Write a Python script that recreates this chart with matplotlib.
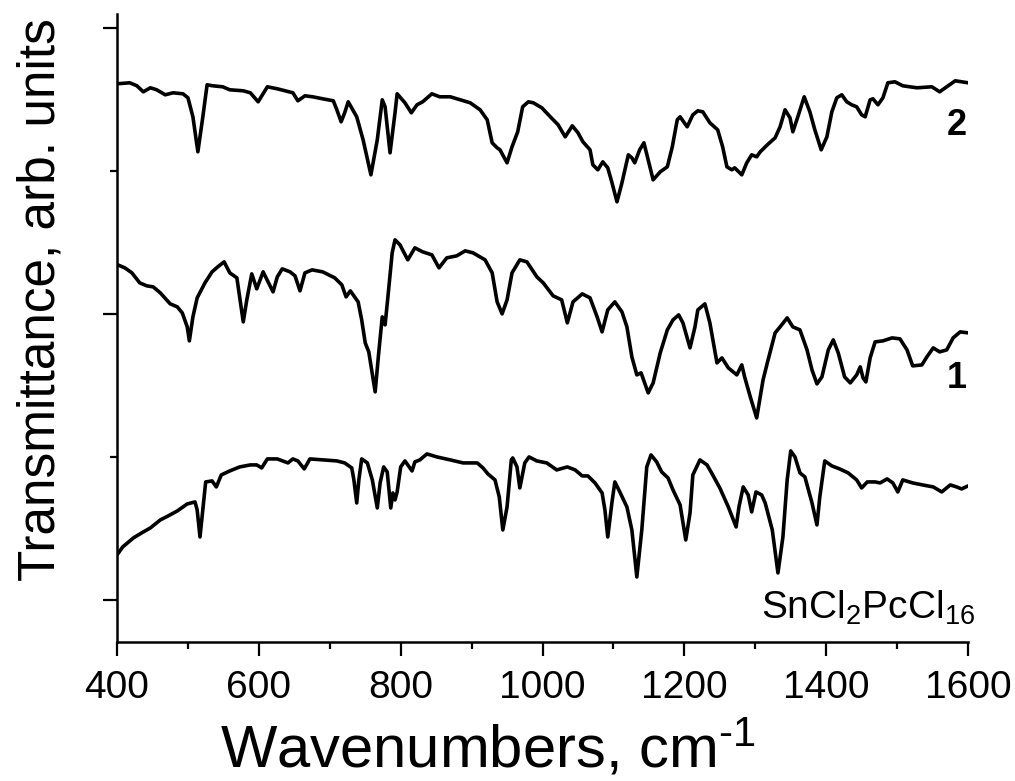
import matplotlib
matplotlib.use("Agg")
import matplotlib.pyplot as plt
from matplotlib.ticker import MultipleLocator, NullFormatter

plt.rcParams['font.family'] = ['Liberation Sans', 'DejaVu Sans']
plt.rcParams['mathtext.fontset'] = 'custom'
plt.rcParams['mathtext.rm'] = 'Liberation Sans'
plt.rcParams['mathtext.it'] = 'Liberation Sans'

# spectrum 2 (top)
wn_2 = [400, 418, 428, 437, 447, 456, 468, 479, 493, 500, 507, 514, 521, 527, 535, 549,
        559, 578, 588, 599, 612, 626, 648, 655, 665, 676, 690, 705, 710, 716, 721, 726,
        738, 747, 758, 767, 774, 778, 785, 792, 795, 806, 815, 823, 831, 844, 855, 870,
        884, 898, 912, 922, 929, 936, 940, 950, 957, 965, 972, 980, 987, 999, 1011, 1022,
        1032, 1042, 1050, 1057, 1067, 1071, 1078, 1085, 1092, 1098, 1105, 1112, 1121, 1126,
        1130, 1137, 1143, 1149, 1156, 1166, 1176, 1183, 1190, 1194, 1204, 1212, 1219, 1226,
        1236, 1247, 1254, 1260, 1267, 1271, 1281, 1288, 1295, 1302, 1307, 1317, 1328, 1335,
        1342, 1349, 1353, 1360, 1369, 1377, 1384, 1393, 1401, 1408, 1415, 1422, 1429, 1436,
        1443, 1450, 1455, 1462, 1466, 1473, 1480, 1487, 1497, 1508, 1528, 1549, 1560, 1570,
        1582, 1591, 1600]
t_2 = [361.2, 361.9, 359.8, 355.6, 358.4, 357.0, 353.5, 354.9, 354.2, 351.4, 338.1, 313.6,
       338.1, 360.5, 359.8, 359.1, 357.0, 356.3, 354.9, 348.6, 359.1, 357.7, 354.9, 349.3,
       352.8, 352.1, 350.7, 349.3, 343.0, 334.6, 340.9, 348.6, 338.1, 322.0, 297.5, 322.0,
       350.0, 345.1, 312.9, 340.9, 354.2, 347.9, 340.9, 346.5, 348.6, 354.2, 352.1, 352.1,
       350.0, 347.9, 343.0, 336.0, 319.9, 316.4, 315.0, 305.9, 317.1, 327.6, 345.1, 348.6,
       347.9, 344.4, 338.1, 332.5, 324.1, 331.8, 326.9, 320.6, 315.0, 304.5, 301.0, 306.6,
       302.4, 291.9, 278.6, 291.9, 311.5, 309.4, 305.9, 315.0, 319.9, 308.0, 294.0, 299.6,
       303.1, 317.1, 336.0, 338.1, 331.1, 339.5, 342.3, 341.6, 333.9, 329.0, 317.1, 303.1,
       301.0, 302.4, 297.5, 305.9, 311.5, 310.1, 313.6, 318.5, 323.4, 331.1, 343.0, 337.4,
       327.6, 338.1, 352.1, 341.6, 329.0, 315.0, 324.1, 341.6, 351.4, 353.5, 348.6, 346.5,
       345.1, 339.5, 338.1, 350.0, 350.7, 346.5, 351.4, 361.9, 362.6, 359.8, 358.4, 359.1,
       355.6, 359.1, 363.3, 362.6, 361.9]

# spectrum 1 (middle)
wn_1 = [401, 411, 421, 432, 442, 451, 461, 475, 485, 492, 499, 502, 507, 513, 524, 534,
        542, 551, 559, 569, 578, 583, 590, 597, 606, 613, 620, 626, 633, 644, 651, 658,
        665, 675, 690, 707, 717, 723, 729, 740, 745, 750, 755, 764, 769, 774, 778, 782,
        788, 792, 799, 810, 820, 831, 844, 854, 865, 879, 891, 902, 919, 929, 936, 943,
        950, 957, 968, 978, 992, 1001, 1015, 1027, 1035, 1043, 1056, 1067, 1077, 1084,
        1092, 1102, 1112, 1119, 1126, 1133, 1139, 1149, 1156, 1166, 1176, 1184, 1192, 1198,
        1208, 1215, 1219, 1229, 1236, 1246, 1253, 1262, 1274, 1281, 1285, 1293, 1302, 1311,
        1317, 1328, 1335, 1345, 1353, 1363, 1373, 1380, 1387, 1394, 1403, 1410, 1417, 1426,
        1434, 1443, 1448, 1452, 1456, 1462, 1469, 1480, 1493, 1504, 1514, 1522, 1535, 1542,
        1551, 1560, 1570, 1579, 1589, 1600]
t_1 = [234.5, 232.4, 228.9, 221.9, 219.8, 219.1, 214.9, 207.2, 205.1, 200.9, 191.1, 181.3,
       198.1, 211.4, 221.9, 229.6, 233.1, 236.6, 228.9, 225.4, 194.6, 210.0, 228.2, 217.7,
       229.6, 222.6, 215.6, 226.1, 231.7, 229.6, 226.8, 216.3, 228.9, 231.0, 229.6, 225.4,
       220.5, 212.1, 216.3, 208.6, 196.0, 179.9, 173.6, 145.6, 172.9, 198.1, 192.5, 212.1,
       242.9, 252.0, 248.5, 238.0, 246.4, 243.6, 241.5, 232.4, 239.4, 240.8, 244.3, 242.9,
       238.0, 228.9, 208.6, 200.2, 210.0, 228.9, 238.0, 236.6, 226.1, 221.9, 212.8, 210.0,
       193.9, 208.6, 214.2, 211.4, 198.1, 187.6, 203.0, 208.6, 201.6, 191.1, 170.1, 157.5,
       158.9, 144.9, 151.9, 172.9, 189.0, 196.0, 199.5, 193.9, 176.4, 191.1, 203.0, 207.2,
       193.9, 165.9, 169.4, 162.4, 157.5, 164.5, 156.1, 142.1, 127.4, 154.0, 165.9, 186.9,
       191.1, 197.4, 191.1, 189.0, 175.0, 161.0, 151.2, 156.1, 175.0, 182.0, 172.9, 156.1,
       151.9, 157.5, 163.1, 155.4, 152.6, 169.4, 180.6, 181.3, 183.4, 182.7, 175.0, 163.8,
       164.5, 170.1, 176.4, 173.6, 175.0, 183.4, 187.6, 186.9]

# SnCl2PcCl16 (bottom)
wn_0 = [400, 408, 423, 437, 447, 461, 472, 485, 499, 510, 513, 517, 521, 525, 534, 540,
        547, 559, 573, 588, 597, 604, 612, 626, 641, 648, 655, 664, 672, 690, 710, 721,
        731, 734, 738, 741, 745, 753, 760, 767, 771, 776, 781, 786, 789, 792, 795, 800,
        806, 816, 820, 827, 837, 851, 870, 888, 908, 916, 923, 933, 939, 944, 950, 956,
        958, 964, 968, 975, 981, 992, 1006, 1020, 1035, 1046, 1056, 1064, 1074, 1084, 1088,
        1092, 1098, 1102, 1109, 1119, 1126, 1133, 1140, 1147, 1153, 1161, 1168, 1177, 1184,
        1194, 1202, 1208, 1212, 1222, 1232, 1240, 1250, 1262, 1273, 1277, 1283, 1290, 1295,
        1301, 1309, 1314, 1324, 1332, 1339, 1345, 1350, 1356, 1363, 1370, 1380, 1387, 1391,
        1398, 1408, 1419, 1431, 1443, 1450, 1458, 1469, 1476, 1486, 1494, 1501, 1508, 1522,
        1536, 1551, 1563, 1575, 1584, 1591, 1600]
t_0 = [31.5, 37.1, 43.4, 47.6, 50.4, 56.0, 58.8, 62.3, 67.2, 68.6, 63.0, 44.1, 63.0, 82.6,
       83.3, 79.1, 87.5, 90.3, 93.1, 94.5, 94.5, 92.4, 98.7, 98.7, 95.9, 98.7, 97.3, 91.7,
       98.7, 98.0, 97.3, 95.9, 92.4, 84.0, 67.9, 84.0, 98.7, 95.9, 84.0, 64.4, 81.9, 93.1,
       89.6, 64.4, 74.9, 70.0, 75.6, 93.1, 97.3, 90.3, 96.6, 98.0, 102.2, 100.1, 98.0, 95.9,
       95.9, 92.4, 88.2, 84.0, 72.1, 49.0, 65.1, 98.0, 99.4, 93.1, 78.4, 95.9, 100.1, 97.3,
       95.9, 91.0, 93.1, 91.0, 86.8, 86.8, 81.9, 74.9, 63.0, 44.1, 68.6, 82.6, 75.6, 65.1,
       49.0, 16.1, 49.0, 93.1, 101.5, 96.6, 89.6, 85.4, 77.0, 66.5, 42.0, 60.9, 87.5, 98.0,
       94.5, 87.5, 78.4, 65.1, 51.1, 65.1, 79.1, 73.5, 61.6, 75.6, 73.5, 67.9, 49.0, 18.9,
       44.1, 84.0, 104.3, 100.1, 88.9, 86.1, 67.9, 52.5, 72.1, 97.3, 93.8, 91.7, 88.9, 84.0,
       78.4, 82.6, 82.6, 81.9, 84.7, 81.9, 75.6, 84.0, 81.9, 80.5, 79.1, 75.6, 80.5, 79.1,
       77.7, 79.8]

fig = plt.figure(figsize=(10.15, 7.81), dpi=100)
ax = fig.add_axes([0.1153, 0.178, 0.8384, 0.804])

for wn, t in [(wn_2, t_2), (wn_1, t_1), (wn_0, t_0)]:
    ax.plot(wn, t, color='black', linewidth=2.6, solid_joinstyle='round',
            solid_capstyle='round')

ax.text(1598, 332, '2', fontsize=26, fontweight='bold', ha='right', va='center')
ax.text(1598, 155, '1', fontsize=26, fontweight='bold', ha='right', va='center')
ax.text(1610, -13, r'SnCl$_2$PcCl$_{16}$', fontsize=28, ha='right', va='baseline')

ax.set_xlim(400, 1600)
ax.set_ylim(-29.4, 410)
ax.xaxis.set_major_locator(MultipleLocator(200))
ax.xaxis.set_minor_locator(MultipleLocator(100))
ax.yaxis.set_major_locator(MultipleLocator(200))
ax.yaxis.set_minor_locator(MultipleLocator(100))
ax.yaxis.set_major_formatter(NullFormatter())

ax.spines['top'].set_visible(False)
ax.spines['right'].set_visible(False)
ax.spines['left'].set_linewidth(1.8)
ax.spines['bottom'].set_linewidth(1.8)
ax.tick_params(which='major', length=10, width=1.6, labelsize=28, pad=10)
ax.tick_params(which='minor', length=5, width=1.6)

ax.set_xlabel(r'Wavenumbers, cm$^{\text{-1}}$', fontsize=43)
ax.xaxis.set_label_coords(0.436, -0.122)
ax.set_ylabel('Transmittance, arb. units', fontsize=37)
ax.yaxis.set_label_coords(-0.06, 0.545)

fig.savefig('out.png', dpi=100)
